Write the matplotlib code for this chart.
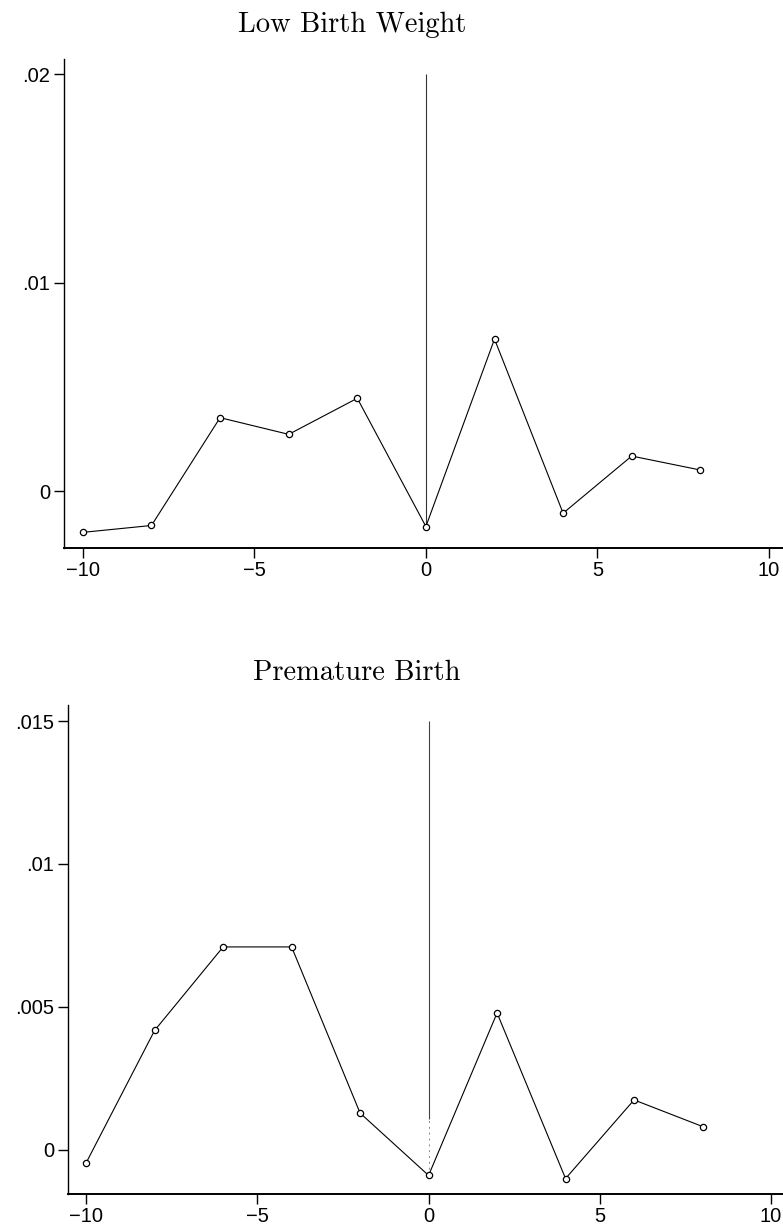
import numpy as np
import matplotlib
matplotlib.use("Agg")
import matplotlib.pyplot as plt

# event time (years relative to the event)
years = [-10, -8, -6, -4, -2, 0, 2, 4, 6, 8]

# estimated coefficients
low_birth_weight = [-0.00198, -0.00165, 0.00352, 0.00272, 0.00445,
                    -0.00170, 0.00729, -0.00106, 0.00168, 0.00101]
premature_birth = [-0.00045, 0.00418, 0.00710, 0.00710, 0.00129,
                   -0.00089, 0.00479, -0.00100, 0.00175, 0.00082]

xticks = [-10, -5, 0, 5, 10]
xticklabels = ["\u221210", "\u22125", "0", "5", "10"]

lbw_yticks = [0, 0.01, 0.02]
lbw_yticklabels = ["0", ".01", ".02"]
pb_yticks = [0, 0.005, 0.01, 0.015]
pb_yticklabels = ["0", ".005", ".01", ".015"]

plt.rcParams['font.family'] = ['Liberation Sans', 'DejaVu Sans']

fig = plt.figure(figsize=(7.83, 12.24), dpi=100)


def style_axes(ax, yticks, yticklabels):
    for side in ("top", "right"):
        ax.spines[side].set_visible(False)
    ax.spines["left"].set_linewidth(1.0)
    ax.spines["bottom"].set_linewidth(1.4)
    ax.set_xticks(xticks)
    ax.set_xticklabels(xticklabels)
    ax.set_yticks(yticks)
    ax.set_yticklabels(yticklabels)
    ax.tick_params(axis="both", direction="out", length=7, width=1.0,
                   labelsize=14.5, pad=3)
    ax.tick_params(axis="x", pad=2)


# Low Birth Weight
ax1 = fig.add_axes([64 / 783, 1 - 548 / 1224, 719 / 783, 489 / 1224])
ax1.vlines(0, low_birth_weight[5], 0.02, color="#333333", lw=0.8)
ax1.plot(years, low_birth_weight, color="black", lw=0.8, marker="o",
         markersize=4.5, markerfacecolor="white", markeredgecolor="black",
         markeredgewidth=0.9)
ax1.set_xlim(-10.55, 10.41)
ax1.set_ylim(-0.00273, 0.02072)
style_axes(ax1, lbw_yticks, lbw_yticklabels)
fig.text(352 / 783, 1 - 25 / 1224, "Low Birth Weight", family="cmr10",
         fontsize=20.5, ha="center", va="center")

# Premature Birth
ax2 = fig.add_axes([68 / 783, 1 - 1194 / 1224, 715 / 783, 489 / 1224])
ax2.vlines(0, 0.0011, 0.015, color="#444444", lw=0.8)
ax2.vlines(0, premature_birth[5], 0.0011, color="#888888", lw=0.7,
           linestyles=(0, (2, 4)))
ax2.plot(years, premature_birth, color="black", lw=0.8, marker="o",
         markersize=4.5, markerfacecolor="white", markeredgecolor="black",
         markeredgewidth=0.9)
ax2.set_xlim(-10.53, 10.35)
ax2.set_ylim(-0.00154, 0.01556)
style_axes(ax2, pb_yticks, pb_yticklabels)
fig.text(357 / 783, 1 - 673 / 1224, "Premature Birth", family="cmr10",
         fontsize=20.5, ha="center", va="center")

fig.savefig("out.png", dpi=100)
